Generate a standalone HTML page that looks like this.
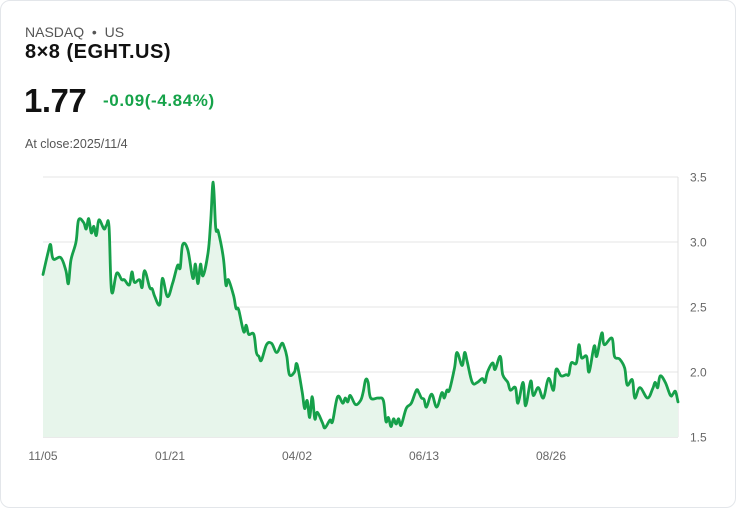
<!DOCTYPE html>
<html><head><meta charset="utf-8"><style>
html,body{margin:0;padding:0;background:#fff;}
body{width:736px;height:508px;position:relative;font-family:"Liberation Sans",sans-serif;overflow:hidden;}
.card{position:absolute;left:0;top:0;width:734px;height:506px;border:1px solid #e3e6ea;border-radius:10px;}
.t{position:absolute;white-space:nowrap;}
</style></head><body>
<div class="card"></div>
<div class="t" style="left:25px;top:24px;font-size:14px;color:#555;">NASDAQ &nbsp;•&nbsp; US</div>
<div class="t" style="left:25px;top:41px;font-size:20px;font-weight:bold;color:#111;letter-spacing:0.5px;">8×8 (EGHT.US)</div>
<div class="t" style="left:24px;top:82px;font-size:33px;font-weight:bold;color:#111;letter-spacing:-0.5px;">1.77</div>
<div class="t" style="left:103px;top:91px;font-size:17px;font-weight:bold;color:#16a34a;letter-spacing:0.6px;">-0.09(-4.84%)</div>
<div class="t" style="left:25px;top:137px;font-size:12.5px;color:#555;">At close:2025/11/4</div>
<svg id="chart" width="736" height="508" style="position:absolute;left:0;top:0;"></svg>
<script>
const days=[0,2,3,4,7,9,10,11,13,14,16,17,18,19,20,21,22,24,25,26,27,29,31,32,34,35,36,38,39,40,42,43,44,46,47,49,51,53,54,55,57,59,60,61,62,63,65,66,67,68,69,71,72,73,75,76,77,79,80,81,83,84,85,86,88,90,92,94,95,96,97,99,100,102,103,104,105,106,107,108,110,111,113,114,116,118,119,120,121,123,125,126,127,128,129,132,134,135,136,137,138,139,140,141,143,145,147,148,149,150,151,153,155,157,158,159,160,162,163,165,166,167,169,171,173,174,175,177,178,180,181,183,184,186,187,189,190,192,193,195,197,199,201,202,204,206,207,208,210,211,212,214,215,217,218,220,221,224,225,227,229,230,232,233,235,238,240,241,242,243,245,247,248,249,250];
const prices=[2.75,2.92,2.98,2.87,2.88,2.78,2.68,2.86,3.0,3.17,3.15,3.10,3.18,3.07,3.12,3.05,3.17,3.10,3.13,3.12,2.62,2.76,2.71,2.71,2.67,2.77,2.69,2.71,2.65,2.78,2.65,2.64,2.58,2.52,2.72,2.58,2.68,2.82,2.80,2.98,2.94,2.72,2.83,2.68,2.83,2.74,2.92,3.15,3.46,3.11,3.08,2.88,2.67,2.71,2.59,2.49,2.48,2.31,2.36,2.29,2.29,2.15,2.12,2.09,2.21,2.22,2.15,2.22,2.19,2.12,1.98,2.00,2.06,1.85,1.72,1.78,1.65,1.81,1.64,1.69,1.61,1.57,1.63,1.62,1.81,1.76,1.80,1.77,1.82,1.75,1.78,1.84,1.94,1.92,1.80,1.80,1.78,1.62,1.65,1.58,1.64,1.60,1.64,1.59,1.72,1.76,1.86,1.84,1.80,1.79,1.73,1.83,1.73,1.84,1.80,1.86,1.86,2.03,2.15,2.05,2.15,2.08,1.92,1.92,1.95,1.92,2.0,2.07,2.02,2.12,1.98,1.92,1.86,1.88,1.76,1.92,1.74,1.93,1.82,1.88,1.80,1.95,1.86,2.02,1.97,1.98,1.98,2.07,2.07,2.21,2.11,2.12,2.00,2.20,2.12,2.30,2.21,2.26,2.12,2.10,2.03,1.90,1.94,1.80,1.88,1.80,1.87,1.92,1.88,1.97,1.92,1.82,1.83,1.85,1.77];
const yTicks=[1.5,2.0,2.5,3.0,3.5];
const xTickLabels=["11/05","01/21","04/02","06/13","08/26"];
const xTickDays=[0,50,100,150,200];

const svg=document.getElementById('chart');
const NS='http://www.w3.org/2000/svg';
const X0=43,X1=678,Y0=437,Y1=177,DMAX=250,VMIN=1.5,VMAX=3.5;
const xs=d=>X0+(d/DMAX)*(X1-X0);
const ys=v=>Y0-(v-VMIN)/(VMAX-VMIN)*(Y0-Y1);
function mk(tag,attrs){const e=document.createElementNS(NS,tag);for(const k in attrs)e.setAttribute(k,attrs[k]);svg.appendChild(e);return e;}
yTicks.forEach(v=>{
  const g=mk('line',{x1:X0,x2:X1,y1:ys(v),y2:ys(v),stroke:v===VMIN?'#d4d4d4':'#e6e6e6','stroke-width':1});
  
  
  const t=mk('text',{x:690,y:ys(v)+4.5,'font-size':12,fill:'#666','font-family':'Liberation Sans, sans-serif'});
  t.textContent=v.toFixed(1);
  
  
});
const ax=mk('line',{x1:X1,x2:X1,y1:Y1,y2:Y0,stroke:'#e0e0e0','stroke-width':1});


xTickLabels.forEach((l,i)=>{
  const t=mk('text',{x:xs(xTickDays[i]),y:460,'font-size':12,fill:'#666','text-anchor':'middle','font-family':'Liberation Sans, sans-serif'});
  t.textContent=l;
  
  
});
const P=days.map((d,i)=>[xs(d),ys(prices[i])]);
function smooth(p){
  let s='M'+p[0][0].toFixed(1)+','+p[0][1].toFixed(1);
  for(let i=0;i<p.length-1;i++){
    const a=p[Math.max(0,i-1)],b=p[i],c=p[i+1],d=p[Math.min(p.length-1,i+2)];
    const k=0.18;
    const c1=[b[0]+(c[0]-a[0])*k,b[1]+(c[1]-a[1])*k];
    const c2=[c[0]-(d[0]-b[0])*k,c[1]-(d[1]-b[1])*k];
    s+=' C'+c1[0].toFixed(1)+','+c1[1].toFixed(1)+' '+c2[0].toFixed(1)+','+c2[1].toFixed(1)+' '+c[0].toFixed(1)+','+c[1].toFixed(1);
  }
  return s;
}
const lp=smooth(P);
const area=mk('path',{d:lp+' L'+P[P.length-1][0]+','+Y0+' L'+P[0][0]+','+Y0+' Z',fill:'#e7f5eb',stroke:'none'});


const line=mk('path',{d:lp,fill:'none',stroke:'#16a04a','stroke-width':2.8,'stroke-linejoin':'round','stroke-linecap':'round'});


</script>
</body></html>
